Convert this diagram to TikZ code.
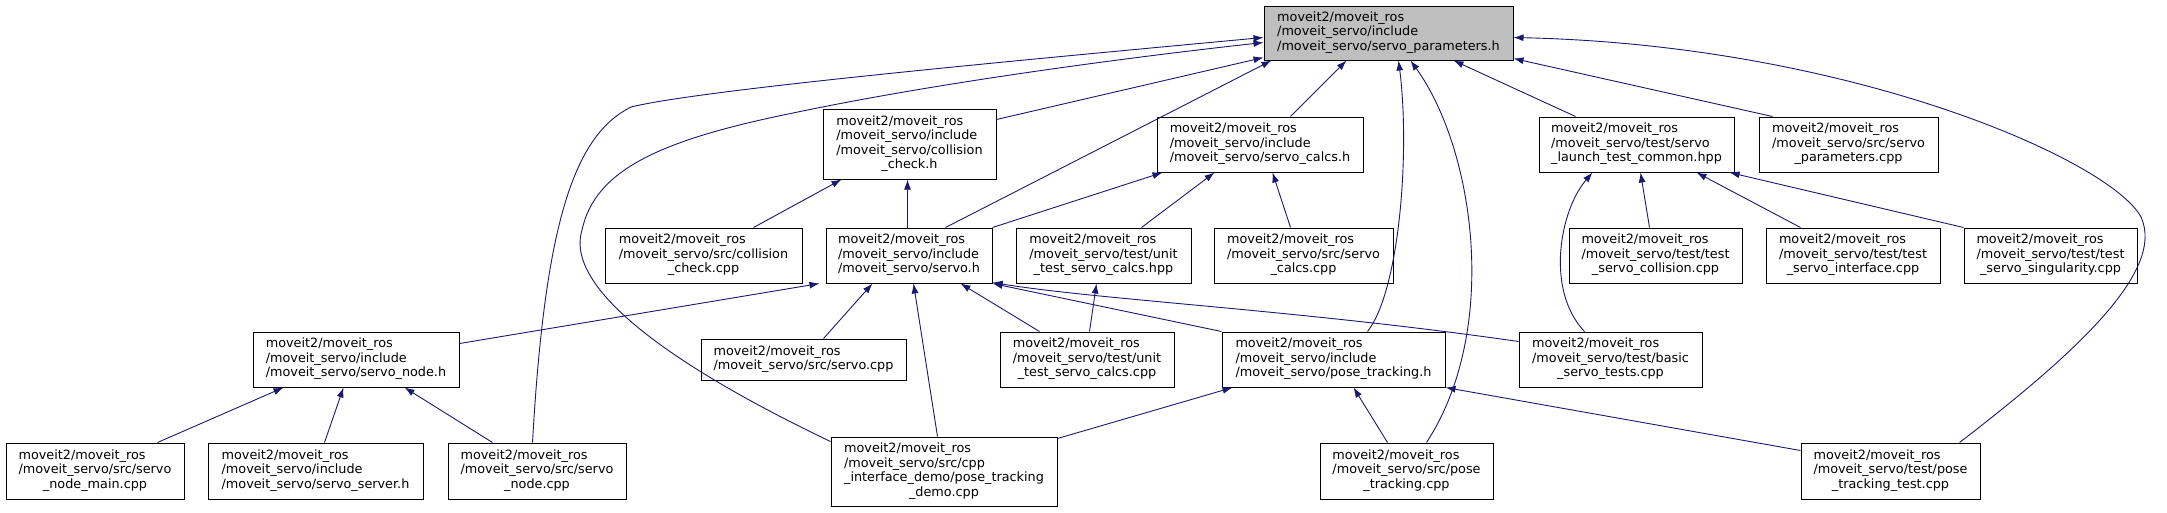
\documentclass[tikz,border=0pt]{standalone}
\usepackage{fontspec}
\setmainfont{DejaVu Sans}
\usepackage{tikz}
\usetikzlibrary{arrows.meta}
\definecolor{edgeblue}{HTML}{191970}
\definecolor{rootgrey}{HTML}{BFBFBF}
\newcommand{\fname}[2]{\begin{tabular}{@{}l@{}}#1\\\multicolumn{1}{@{}c@{}}{#2}\end{tabular}}

\begin{document}
\begin{tikzpicture}[x=1pt, y=-1pt,
        file/.style 2 args={rectangle, draw=black, fill=white, line width=1pt, inner sep=0pt, minimum width=#1, minimum height=#2, font=\fontsize{12.8}{14.5}\selectfont},
        dep/.style={->, >={Latex[length=10pt, width=7pt]}, line width=0.9pt, color=edgeblue}
    ]
        \useasboundingbox (0,0) rectangle (2167,512);

        % Fichero raiz
        \node[file={249}{54}, fill=rootgrey] (root) at (1388.5,33) {\fname{moveit2/moveit\_ros\\/moveit\_servo/include}{/moveit\_servo/servo\_parameters.h}};

        % Segundo nivel
        \node[file={173}{70}] (ccheckh) at (909.5,144) {\fname{moveit2/moveit\_ros\\/moveit\_servo/include\\/moveit\_servo/collision}{\_check.h}};
        \node[file={206}{55}] (calcsh) at (1260,144.5) {\fname{moveit2/moveit\_ros\\/moveit\_servo/include}{/moveit\_servo/servo\_calcs.h}};
        \node[file={195}{55}] (launch) at (1636.5,144.5) {\fname{moveit2/moveit\_ros\\/moveit\_servo/test/servo}{\_launch\_test\_common.hpp}};
        \node[file={179}{55}] (params) at (1848.5,144.5) {\fname{moveit2/moveit\_ros\\/moveit\_servo/src/servo}{\_parameters.cpp}};

        % Tercer nivel
        \node[file={197}{55}] (ccheckcpp) at (703.5,255.5) {\fname{moveit2/moveit\_ros\\/moveit\_servo/src/collision}{\_check.cpp}};
        \node[file={166}{55}] (servoh) at (909,255.5) {\fname{moveit2/moveit\_ros\\/moveit\_servo/include}{/moveit\_servo/servo.h}};
        \node[file={175}{55}] (unithpp) at (1103.5,255.5) {\fname{moveit2/moveit\_ros\\/moveit\_servo/test/unit}{\_test\_servo\_calcs.hpp}};
        \node[file={179}{55}] (calcscpp) at (1303.5,255.5) {\fname{moveit2/moveit\_ros\\/moveit\_servo/src/servo}{\_calcs.cpp}};
        \node[file={173}{55}] (tcollision) at (1655.5,255.5) {\fname{moveit2/moveit\_ros\\/moveit\_servo/test/test}{\_servo\_collision.cpp}};
        \node[file={174}{55}] (tinterface) at (1853,255.5) {\fname{moveit2/moveit\_ros\\/moveit\_servo/test/test}{\_servo\_interface.cpp}};
        \node[file={173}{55}] (tsingular) at (2050.5,255.5) {\fname{moveit2/moveit\_ros\\/moveit\_servo/test/test}{\_servo\_singularity.cpp}};

        % Cuarto nivel
        \node[file={206}{55}] (nodeh) at (356,359.5) {\fname{moveit2/moveit\_ros\\/moveit\_servo/include}{/moveit\_servo/servo\_node.h}};
        \node[file={205}{41}] (servocpp) at (803.5,359.5) {\fname{moveit2/moveit\_ros}{/moveit\_servo/src/servo.cpp}};
        \node[file={174}{55}] (unitcpp) at (1087,359.5) {\fname{moveit2/moveit\_ros\\/moveit\_servo/test/unit}{\_test\_servo\_calcs.cpp}};
        \node[file={223}{55}] (trackh) at (1333.5,359.5) {\fname{moveit2/moveit\_ros\\/moveit\_servo/include}{/moveit\_servo/pose\_tracking.h}};
        \node[file={183}{55}] (basiccpp) at (1610.5,359.5) {\fname{moveit2/moveit\_ros\\/moveit\_servo/test/basic}{\_servo\_tests.cpp}};

        % Quinto nivel
        \node[file={178}{56}] (nodemain) at (95,471) {\fname{moveit2/moveit\_ros\\/moveit\_servo/src/servo}{\_node\_main.cpp}};
        \node[file={215}{56}] (serverh) at (315.5,471) {\fname{moveit2/moveit\_ros\\/moveit\_servo/include}{/moveit\_servo/servo\_server.h}};
        \node[file={178}{56}] (nodecpp) at (537,471) {\fname{moveit2/moveit\_ros\\/moveit\_servo/src/servo}{\_node.cpp}};
        \node[file={226}{69}] (demo) at (944,471.5) {\fname{moveit2/moveit\_ros\\/moveit\_servo/src/cpp\\\_interface\_demo/pose\_tracking}{\_demo.cpp}};
        \node[file={173}{56}] (trackcpp) at (1406.5,471) {\fname{moveit2/moveit\_ros\\/moveit\_servo/src/pose}{\_tracking.cpp}};
        \node[file={179}{56}] (tracktest) at (1890.5,471) {\fname{moveit2/moveit\_ros\\/moveit\_servo/test/pose}{\_tracking\_test.cpp}};

        % Dependencias de servo_parameters.h
        \draw[dep] ([xshift=85]nodecpp.north west) .. controls (545,220) and (575,135) .. (631,107) .. controls (700,90) and (1000,62) .. ([yshift=-32]root.north west);
        \draw[dep] ([yshift=-5]demo.north west) .. controls (660,360) and (565,285) .. (582,230) .. controls (595,170) and (660,140) .. (793,113) .. controls (950,80) and (1150,55) .. ([yshift=-37]root.north west);
        \draw[dep] ([yshift=-11]ccheckh.north east) -- ([yshift=3]root.south west);
        \draw[dep] ([xshift=120]servoh.north west) -- ([xshift=8]root.south west);
        \draw[dep] ([xshift=134]calcsh.north west) -- ([xshift=83]root.south west);
        \draw[dep] ([xshift=146]trackh.north west) .. controls (1400,290) and (1410,150) .. ([xshift=135]root.south west);
        \draw[dep] ([xshift=107]trackcpp.north west) .. controls (1500,330) and (1475,150) .. ([xshift=147]root.south west);
        \draw[dep] ([xshift=37]launch.north west) -- ([xshift=190]root.south west);
        \draw[dep] ([xshift=14]params.north west) -- ([yshift=2]root.south east);
        \draw[dep] ([xshift=159]tracktest.north west) .. controls (2080,350) and (2165,270) .. (2141,217) .. controls (2110,160) and (1850,45) .. ([yshift=-32]root.north east);

        % Dependencias de collision_check.h
        \draw[dep] ([xshift=149]ccheckcpp.north west) -- ([xshift=19]ccheckh.south west);
        \draw[dep] ([xshift=82]servoh.north west) -- ([xshift=85]ccheckh.south west);

        % Dependencias de servo_calcs.h
        \draw[dep] (servoh.north east) -- ([xshift=6]calcsh.south west);
        \draw[dep] ([xshift=126]unithpp.north west) -- ([xshift=58]calcsh.south west);
        \draw[dep] ([xshift=77]calcscpp.north west) -- ([xshift=116]calcsh.south west);

        % Dependencias de servo_launch_test_common.hpp
        \draw[dep] ([xshift=66]basiccpp.north west) .. controls (1545,290) and (1560,210) .. ([xshift=54]launch.south west);
        \draw[dep] ([xshift=81]tcollision.north west) -- ([xshift=102]launch.south west);
        \draw[dep] ([xshift=35]tinterface.north west) -- ([xshift=158]launch.south west);
        \draw[dep] (tsingular.north west) -- ([xshift=-5]launch.south east);

        % Dependencias de servo.h
        \draw[dep] ([yshift=-12]nodeh.north east) -- ([xshift=-6]servoh.south west);
        \draw[dep] ([xshift=123]servocpp.north west) -- ([xshift=47]servoh.south west);
        \draw[dep] ([xshift=107]demo.north west) -- ([xshift=88]servoh.south west);
        \draw[dep] ([xshift=40]unitcpp.north west) -- ([xshift=135]servoh.south west);
        \draw[dep] (trackh.north west) -- (servoh.south east);
        \draw[dep] ([yshift=-10]basiccpp.north west) .. controls (1300,310) and (1100,300) .. ([yshift=1]servoh.south east);

        % Dependencias de unit_test_servo_calcs.hpp
        \draw[dep] ([xshift=90]unitcpp.north west) -- ([xshift=81]unithpp.south west);

        % Dependencias de servo_node.h
        \draw[dep] ([xshift=152]nodemain.north west) -- ([xshift=31]nodeh.south west);
        \draw[dep] ([xshift=117]serverh.north west) -- ([xshift=91]nodeh.south west);
        \draw[dep] ([xshift=45]nodecpp.north west) -- ([xshift=152]nodeh.south west);

        % Dependencias de pose_tracking.h
        \draw[dep] ([yshift=-2]demo.north east) -- ([xshift=11]trackh.south west);
        \draw[dep] ([xshift=68]trackcpp.north west) -- ([xshift=132]trackh.south west);
        \draw[dep] ([yshift=-8]tracktest.north west) -- (trackh.south east);
    \end{tikzpicture}
\end{document}
